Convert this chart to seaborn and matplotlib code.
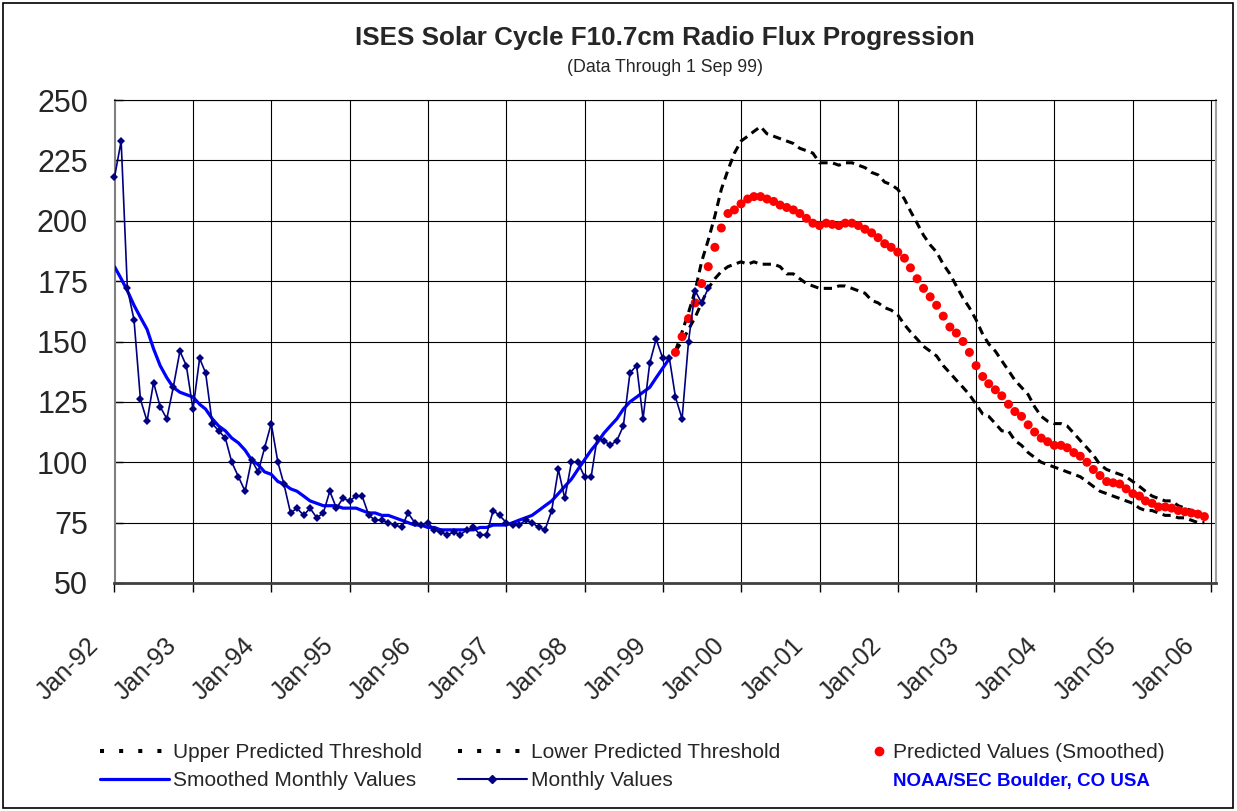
import matplotlib
matplotlib.use("Agg")
import numpy as np
import pandas as pd
import matplotlib.pyplot as plt
import matplotlib.dates as mdates
from matplotlib.lines import Line2D
from matplotlib.patches import Rectangle
from matplotlib.transforms import ScaledTranslation
import seaborn as sns

# Monthly observed flux, Jan-92 .. Aug-99
monthly_values = [
    218, 233, 172, 159, 126, 117, 133, 123, 118, 131,
    146, 140, 122, 143, 137, 116, 113, 110, 100, 94,
    88, 101, 96, 106, 116, 100, 91, 79, 81, 78,
    81, 77, 79, 88, 81, 85, 84, 86, 86, 78,
    76, 76, 75, 74, 73, 79, 75, 74, 75, 72,
    71, 70, 71, 70, 72, 73, 70, 70, 80, 78,
    75, 74, 74, 76, 75, 73, 72, 80, 97, 85,
    100, 100, 94, 94, 110, 109, 107, 109, 115, 137,
    140, 118, 141, 151, 143, 143, 127, 118, 150, 171,
    166, 172,
]

# Smoothed monthly values, Jan-92 .. Feb-99
smoothed_values = [
    181, 176, 171, 165, 160, 155, 147, 140, 135, 131,
    129, 128, 127, 124, 122, 118, 115, 113, 110, 108,
    105, 101, 99, 96, 95, 92, 91, 89, 88, 86,
    84, 83, 82, 82, 82, 81, 81, 81, 80, 79,
    79, 78, 78, 77, 76, 75, 74, 74, 73, 73,
    72, 72, 72, 72, 72, 72, 73, 73, 74, 74,
    74, 75, 76, 77, 78, 80, 82, 84, 87, 90,
    93, 97, 101, 105, 108, 112, 115, 118, 122, 125,
    127, 129, 131, 135, 139, 143,
]

# Predictions, Mar-99 .. Dec-05
predicted_values = [
    145.5, 152, 159.5, 166, 174, 181, 189, 197, 203, 204.5,
    207, 209, 210, 210, 209, 208, 206.5, 205.5, 204.5, 203,
    201, 199, 198, 199, 198.5, 198, 199, 199, 198, 196.5,
    195, 193, 190.5, 189, 187, 184.5, 180.5, 176, 172, 168.5,
    165, 160.5, 156, 153.5, 150, 145.5, 140, 135.5, 132.5, 130,
    127.5, 124, 121, 119, 115.5, 112.5, 110, 108.5, 107, 107,
    106, 104, 102.5, 100, 97, 94.5, 92, 91.5, 91, 89,
    87, 86, 84, 83, 81.5, 81.5, 81, 80, 79.5, 79,
    78.5, 77.5,
]

upper_threshold = [
    146, 154, 162, 171, 183, 192, 202, 213, 221, 228,
    233, 235, 237, 239, 236, 235, 234, 233, 232, 230,
    229, 228, 224, 224, 224, 223, 224, 224, 223, 222,
    220, 219, 216, 215, 213, 209, 204, 199, 194, 190,
    187, 182, 178, 173, 168, 164, 159, 153, 149, 146,
    142, 138, 134, 131, 128, 123, 119, 117, 116, 116,
    115, 112, 109, 106, 103, 99, 97, 96, 95, 94,
    92, 90, 88, 86, 85, 84, 84, 82, 81, 80,
    79, 78,
]

lower_threshold = [
    146, 150, 155, 160, 166, 172, 176, 179, 181, 182,
    183, 182, 183, 182, 182, 182, 181, 178, 178, 176,
    174, 173, 172, 172, 172, 173, 173, 172, 171, 170,
    167, 166, 164, 163, 161, 157, 154, 151, 148, 146,
    144, 140, 137, 134, 131, 128, 124, 120, 119, 116,
    113, 113, 109, 107, 104, 102, 100, 99, 98, 97,
    96, 95, 94, 92, 90, 88, 87, 86, 85, 84,
    83, 81, 80, 80, 79, 78, 78, 77, 77, 76,
    75, 75,
]

monthly_dates = pd.date_range("1992-01-01", periods=len(monthly_values), freq="MS")
smoothed_dates = pd.date_range("1992-01-01", periods=len(smoothed_values), freq="MS")
predicted_dates = pd.date_range("1999-03-01", periods=len(predicted_values), freq="MS")
year_ticks = pd.date_range("1992-01-01", "2006-01-01", freq="YS")
y_ticks = [50, 75, 100, 125, 150, 175, 200, 225, 250]

sns.set_style("white")
plt.rcParams["font.family"] = ["Liberation Sans", "DejaVu Sans"]

W, H = 1237, 811
fig = plt.figure(figsize=(W / 100, H / 100), dpi=100)
ax = fig.add_axes([114.5 / W, (H - 583) / H, (1216 - 114.5) / W, (583 - 100) / H])

dash_style = (0, (2.7, 1.8))
sns.lineplot(x=predicted_dates, y=upper_threshold, ax=ax, color="black",
             lw=2.2, linestyle=dash_style, legend=False)
sns.lineplot(x=predicted_dates, y=lower_threshold, ax=ax, color="black",
             lw=2.2, linestyle=dash_style, legend=False)
sns.scatterplot(x=predicted_dates, y=predicted_values, ax=ax, color="#FF0000",
                s=42, edgecolor="none", legend=False, zorder=3)
sns.lineplot(x=smoothed_dates, y=smoothed_values, ax=ax, color="#0000FF",
             lw=2.3, legend=False, zorder=4)
sns.lineplot(x=monthly_dates, y=monthly_values, ax=ax, color="#000080",
             lw=1.2, marker="D", markersize=4.5, markeredgewidth=0,
             legend=False, zorder=5, clip_on=False)

# axes, grid
ax.set_xlim(pd.Timestamp("1992-01-01"), pd.Timestamp("2006-01-24"))
ax.set_ylim(50, 250)
ax.set_xticks(year_ticks)
ax.xaxis.set_major_formatter(mdates.DateFormatter("%b-%y"))
ax.set_yticks(y_ticks)
ax.grid(True, color="black", lw=0.8)
ax.set_axisbelow(True)
ax.set_xlabel("")
ax.set_ylabel("")

ax.tick_params(axis="x", direction="out", length=6.5, width=1, color="black",
               labelsize=18, pad=36, bottom=True)
ax.tick_params(axis="y", direction="in", length=6, width=1, color="black",
               labelsize=22, pad=19, left=True)
for lab in ax.get_xticklabels():
    lab.set_rotation(45)
    lab.set_ha("right")
    lab.set_va("center")
    lab.set_rotation_mode("anchor")
    lab.set_transform(lab.get_transform() + ScaledTranslation(-0.2, 0, fig.dpi_scale_trans))

ax.spines["left"].set_color("#808080")
ax.spines["left"].set_linewidth(1.5)
ax.spines["bottom"].set_color("#404040")
ax.spines["bottom"].set_linewidth(2)
ax.spines["top"].set_color("black")
ax.spines["top"].set_linewidth(0.8)
ax.spines["right"].set_color("#a0a0a0")
ax.spines["right"].set_linewidth(1.5)

# titles
fig.text(665 / W, 1 - 38 / H, "ISES Solar Cycle F10.7cm Radio Flux Progression",
         ha="center", va="center", fontsize=18.7, fontweight="bold")
fig.text(665 / W, 1 - 68 / H, "(Data Through 1 Sep 99)",
         ha="center", va="center", fontsize=12.8)

# legend, built as three columns
fs = 15
thr_h = Line2D([], [], color="black", lw=2.9, linestyle=(0, (1, 3.75)))
smooth_h = Line2D([], [], color="#0000FF", lw=2.3)
monthly_h = Line2D([], [], color="#000080", lw=1.5, marker="D", markersize=4)
pred_h = Line2D([], [], color="#FF0000", lw=0, marker="o", markersize=6)
blank_h = Line2D([], [], lw=0)

common = dict(loc="upper left", frameon=False, fontsize=fs, handletextpad=0.2,
              labelspacing=0.45, borderpad=0, borderaxespad=0)
fig.legend([thr_h, smooth_h], ["Upper Predicted Threshold", "Smoothed Monthly Values"],
           bbox_to_anchor=(100 / W, 1 - 743 / H), handlelength=3.3, **common)
fig.legend([thr_h, monthly_h], ["Lower Predicted Threshold", "Monthly Values"],
           bbox_to_anchor=(458 / W, 1 - 743 / H), handlelength=3.3, **common)
leg3 = fig.legend([pred_h, blank_h], ["Predicted Values (Smoothed)", "NOAA/SEC Boulder, CO USA"],
                  bbox_to_anchor=(869 / W, 1 - 743 / H), handlelength=0.95, **common)
noaa = leg3.get_texts()[1]
noaa.set_color("#0000FF")
noaa.set_fontweight("bold")
noaa.set_fontsize(13.5)

# outer border
fig.patches.append(Rectangle((3 / W, 3 / H), 1230 / W, 805 / H, transform=fig.transFigure,
                             fill=False, edgecolor="black", lw=1.2))

fig.savefig("out.png", dpi=100)
